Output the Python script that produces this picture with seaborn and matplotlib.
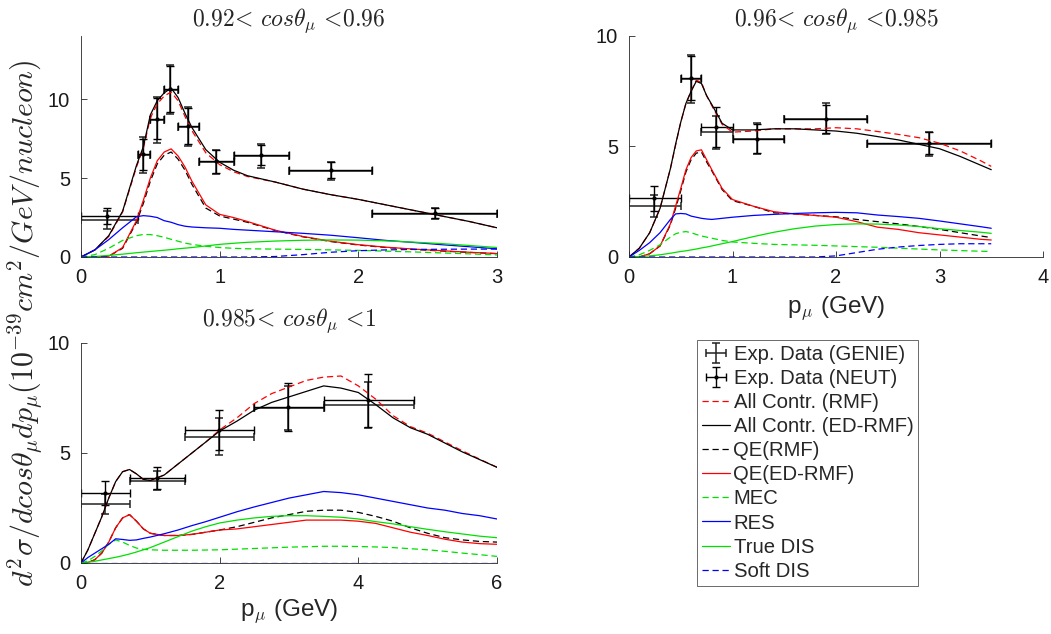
import numpy as np
import pandas as pd
import matplotlib
matplotlib.use("Agg")
import matplotlib.pyplot as plt
import seaborn as sns
from matplotlib.lines import Line2D

# ---------------- Panel 1: 0.92 < cos < 0.96 ----------------
p1_x = [0, 0.1, 0.2, 0.3, 0.4, 0.45, 0.5, 0.55, 0.6, 0.65, 0.7, 0.75, 0.8, 0.9, 1.0,
        1.1, 1.2, 1.4, 1.6, 1.8, 2.0, 2.2, 2.4, 2.6, 2.8, 3.0]
p1_tot_rmf = [0, 0.45, 1.3, 2.85, 5.7, 6.9, 8.8, 9.7, 10.2, 10.45, 9.9, 8.9, 8.0, 6.6, 5.85,
              5.4, 5.1, 4.75, 4.3, 3.95, 3.65, 3.3, 2.95, 2.6, 2.25, 1.85]
p1_tot_ed = [0, 0.45, 1.35, 2.9, 5.8, 7.0, 9.0, 9.9, 10.4, 10.7, 10.1, 9.1, 8.2, 6.8, 6.0,
             5.5, 5.15, 4.75, 4.3, 3.95, 3.65, 3.3, 2.95, 2.6, 2.25, 1.85]
p1_qe_rmf = [0, 0, 0.05, 0.55, 2.2, 3.4, 4.8, 5.9, 6.45, 6.65, 6.2, 5.5, 4.6, 3.1, 2.6,
             2.4, 2.2, 1.68, 1.28, 0.98, 0.76, 0.6, 0.48, 0.38, 0.29, 0.21]
p1_qe_ed = [0, 0, 0.05, 0.6, 2.3, 3.6, 5.0, 6.1, 6.65, 6.85, 6.4, 5.7, 4.8, 3.3, 2.7,
            2.5, 2.25, 1.7, 1.3, 1.0, 0.78, 0.62, 0.5, 0.4, 0.3, 0.22]
p1_mec = [0, 0.15, 0.55, 1.05, 1.35, 1.43, 1.42, 1.35, 1.25, 1.12, 1.0, 0.88, 0.8, 0.68, 0.6,
          0.55, 0.52, 0.5, 0.48, 0.45, 0.42, 0.37, 0.32, 0.26, 0.2, 0.13]
p1_res = [0, 0.45, 1.1, 1.85, 2.55, 2.62, 2.58, 2.5, 2.3, 2.2, 2.05, 1.95, 1.9, 1.85, 1.82,
          1.75, 1.7, 1.6, 1.5, 1.38, 1.22, 1.05, 0.92, 0.78, 0.65, 0.52]
p1_dis = [0, 0.03, 0.1, 0.18, 0.27, 0.31, 0.35, 0.39, 0.43, 0.47, 0.52, 0.56, 0.6, 0.7, 0.8,
          0.87, 0.93, 1.01, 1.06, 1.08, 1.07, 1.02, 0.94, 0.85, 0.73, 0.6]
p1_soft = [0, 0, 0, 0, 0, 0, 0, 0, 0, 0, 0, 0, 0, 0, 0,
           0, 0, 0.03, 0.15, 0.3, 0.4, 0.45, 0.48, 0.49, 0.5, 0.5]

p1_dx = [0.19, 0.445, 0.545, 0.64, 0.775, 0.975, 1.30, 1.80, 2.55]
p1_dlo = [0, 0.41, 0.50, 0.60, 0.70, 0.85, 1.10, 1.50, 2.10]
p1_dhi = [0.41, 0.50, 0.60, 0.70, 0.85, 1.10, 1.50, 2.10, 3.00]
p1_genie = [2.35, 6.45, 8.7, 10.6, 8.25, 6.0, 6.4, 5.45, 2.75]
p1_genie_err = [0.55, 1.15, 1.45, 1.55, 1.25, 0.75, 0.75, 0.55, 0.35]
p1_neut = [2.6, 6.5, 8.75, 10.65, 8.3, 6.05, 6.45, 5.5, 2.8]
p1_neut_err = [0.5, 1.0, 1.3, 1.45, 1.15, 0.7, 0.65, 0.5, 0.3]

# ---------------- Panel 2: 0.96 < cos < 0.985 ----------------
p2_x = [0, 0.1, 0.2, 0.3, 0.4, 0.45, 0.5, 0.55, 0.6, 0.65, 0.7, 0.75, 0.8, 0.9, 1.0, 1.2,
        1.4, 1.6, 1.8, 2.0, 2.2, 2.4, 2.6, 2.8, 3.0, 3.2, 3.4, 3.5]
p2_tot_rmf = [0, 0.4, 1.1, 2.2, 4.0, 5.05, 6.1, 6.95, 7.5, 8.0, 7.9, 7.3, 6.85, 6.0, 5.65, 5.7,
              5.8, 5.8, 5.8, 5.85, 5.8, 5.68, 5.55, 5.4, 5.15, 4.8, 4.35, 4.1]
p2_tot_ed = [0, 0.4, 1.1, 2.2, 4.0, 5.1, 6.1, 6.95, 7.5, 7.95, 7.85, 7.3, 6.9, 6.05, 5.75, 5.75,
             5.8, 5.8, 5.75, 5.7, 5.6, 5.45, 5.3, 5.1, 4.9, 4.55, 4.15, 3.95]
p2_qe_rmf = [0, 0, 0.15, 0.5, 1.45, 2.2, 3.0, 3.85, 4.4, 4.7, 4.75, 4.3, 3.9, 3.05, 2.55, 2.3,
             2.0, 1.95, 1.88, 1.82, 1.7, 1.6, 1.5, 1.38, 1.25, 1.1, 0.95, 0.88]
p2_qe_ed = [0, 0, 0.15, 0.5, 1.5, 2.3, 3.1, 3.95, 4.5, 4.8, 4.85, 4.4, 3.95, 3.1, 2.6, 2.3,
            2.05, 1.95, 1.88, 1.8, 1.6, 1.35, 1.25, 1.1, 1.0, 0.9, 0.8, 0.77]
p2_mec = [0, 0.1, 0.3, 0.55, 0.9, 1.05, 1.12, 1.15, 1.1, 1.02, 0.95, 0.9, 0.85, 0.75, 0.68, 0.62,
          0.57, 0.55, 0.53, 0.5, 0.47, 0.44, 0.4, 0.36, 0.32, 0.29, 0.26, 0.25]
p2_res = [0, 0.3, 0.65, 1.1, 1.7, 1.95, 1.97, 1.95, 1.85, 1.8, 1.75, 1.72, 1.7, 1.75, 1.8, 1.88,
          1.93, 1.97, 2.0, 2.02, 2.0, 1.9, 1.83, 1.75, 1.63, 1.5, 1.37, 1.3]
p2_dis = [0, 0.02, 0.05, 0.1, 0.17, 0.21, 0.25, 0.28, 0.32, 0.36, 0.41, 0.45, 0.5, 0.6, 0.7, 0.92,
          1.12, 1.28, 1.4, 1.47, 1.5, 1.49, 1.45, 1.38, 1.28, 1.2, 1.12, 1.07]
p2_soft = [0, 0, 0, 0, 0, 0, 0, 0, 0, 0, 0, 0, 0, 0, 0, 0,
           0, 0, 0, 0.05, 0.2, 0.35, 0.45, 0.52, 0.57, 0.6, 0.6, 0.6]

p2_dx = [0.245, 0.60, 0.84, 1.24, 1.90, 2.90]
p2_dlo = [0, 0.50, 0.70, 1.00, 1.50, 2.30]
p2_dhi = [0.50, 0.70, 1.00, 1.50, 2.30, 3.50]
p2_genie = [2.3, 8.05, 5.65, 5.35, 6.25, 5.1]
p2_genie_err = [0.5, 1.1, 0.75, 0.7, 0.7, 0.55]
p2_neut = [2.65, 8.1, 5.87, 5.35, 6.25, 5.15]
p2_neut_err = [0.55, 1.0, 0.9, 0.65, 0.65, 0.5]

# ---------------- Panel 3: 0.985 < cos < 1 ----------------
p3_x = [0, 0.1, 0.2, 0.3, 0.4, 0.5, 0.6, 0.7, 0.8, 0.9, 1.0, 1.2, 1.4, 1.6, 1.8, 2.0,
        2.25, 2.5, 2.75, 3.0, 3.25, 3.5, 3.75, 4.0, 4.25, 4.5, 4.75, 5.0, 5.25, 5.5, 5.75, 6.0]
p3_tot_rmf = [0, 0.6, 1.35, 2.1, 2.95, 3.7, 4.15, 4.25, 4.05, 3.8, 3.75, 4.0, 4.5, 5.0, 5.5, 6.05,
              6.6, 7.25, 7.7, 8.0, 8.3, 8.45, 8.5, 8.05, 7.45, 6.7, 6.2, 5.9, 5.5, 5.1, 4.72, 4.35]
p3_tot_ed = [0, 0.6, 1.35, 2.1, 2.95, 3.7, 4.15, 4.25, 4.05, 3.8, 3.75, 4.0, 4.5, 5.0, 5.5, 6.0,
             6.45, 6.95, 7.3, 7.55, 7.8, 8.05, 7.95, 7.75, 7.2, 6.6, 6.15, 5.85, 5.45, 5.05, 4.7, 4.35]
p3_qe_rmf = [0, 0.02, 0.15, 0.45, 0.95, 1.6, 2.05, 2.2, 1.9, 1.55, 1.35, 1.25, 1.25, 1.3, 1.4, 1.5,
             1.65, 1.85, 2.05, 2.2, 2.35, 2.4, 2.4, 2.3, 2.12, 1.9, 1.6, 1.35, 1.15, 1.05, 0.98, 0.95]
p3_qe_ed = [0, 0.02, 0.15, 0.45, 0.95, 1.6, 2.05, 2.2, 1.9, 1.55, 1.35, 1.25, 1.25, 1.3, 1.4, 1.5,
            1.55, 1.65, 1.75, 1.85, 1.95, 1.95, 1.95, 1.9, 1.8, 1.6, 1.4, 1.25, 1.08, 0.95, 0.88, 0.85]
p3_mec = [0, 0.1, 0.3, 0.55, 0.85, 1.05, 0.95, 0.8, 0.68, 0.62, 0.6, 0.58, 0.58, 0.58, 0.59, 0.6,
          0.63, 0.66, 0.69, 0.72, 0.74, 0.76, 0.76, 0.75, 0.73, 0.7, 0.65, 0.6, 0.53, 0.45, 0.38, 0.3]
p3_res = [0, 0.25, 0.45, 0.65, 0.85, 1.1, 1.07, 1.03, 1.05, 1.12, 1.18, 1.33, 1.5, 1.7, 1.88, 2.08,
          2.33, 2.55, 2.75, 2.95, 3.1, 3.25, 3.2, 3.1, 2.95, 2.8, 2.65, 2.5, 2.4, 2.25, 2.15, 2.0]
p3_dis = [0, 0.04, 0.08, 0.14, 0.2, 0.26, 0.33, 0.41, 0.5, 0.6, 0.7, 0.95, 1.2, 1.45, 1.65, 1.82,
          1.95, 2.05, 2.12, 2.15, 2.15, 2.12, 2.08, 2.0, 1.88, 1.78, 1.65, 1.53, 1.42, 1.32, 1.22, 1.15]
p3_soft = [0] * 32

p3_dx = [0.34, 1.09, 1.99, 2.99, 4.14]
p3_dlo = [0, 0.70, 1.50, 2.50, 3.50]
p3_dhi = [0.70, 1.50, 2.50, 3.50, 4.80]
p3_genie = [2.7, 3.75, 5.75, 7.05, 7.2]
p3_genie_err = [0.45, 0.45, 0.85, 1.0, 1.05]
p3_neut = [3.2, 3.85, 6.05, 7.1, 7.4]
p3_neut_err = [0.55, 0.5, 0.9, 1.1, 1.2]

titles = [r"$0.92\!<\,cos\theta_\mu\,<\!0.96$",
          r"$0.96\!<\,cos\theta_\mu\,<\!0.985$",
          r"$0.985\!<\,cos\theta_\mu\,<\!1$"]

legend_labels = ["Exp. Data (GENIE)", "Exp. Data (NEUT)", "All Contr. (RMF)",
                 "All Contr. (ED-RMF)", "QE(RMF)", "QE(ED-RMF)", "MEC", "RES",
                 "True DIS", "Soft DIS"]

GREEN = "#00e000"
styles = [("tot_rmf", "red", (0, (5, 3))),
          ("tot_ed", "black", "-"),
          ("qe_rmf", "black", (0, (5, 3))),
          ("qe_ed", "red", "-"),
          ("mec", GREEN, (0, (5, 3))),
          ("res", "blue", "-"),
          ("dis", GREEN, "-"),
          ("soft", "blue", (0, (5, 3)))]

panels = [
    dict(x=p1_x, curves=dict(tot_rmf=p1_tot_rmf, tot_ed=p1_tot_ed, qe_rmf=p1_qe_rmf, qe_ed=p1_qe_ed,
                             mec=p1_mec, res=p1_res, dis=p1_dis, soft=p1_soft),
         dx=p1_dx, dlo=p1_dlo, dhi=p1_dhi, g=p1_genie, ge=p1_genie_err, n=p1_neut, ne=p1_neut_err,
         xlim=(0, 3), ylim=(0, 14), xticks=[0, 1, 2, 3], pad=7),
    dict(x=p2_x, curves=dict(tot_rmf=p2_tot_rmf, tot_ed=p2_tot_ed, qe_rmf=p2_qe_rmf, qe_ed=p2_qe_ed,
                             mec=p2_mec, res=p2_res, dis=p2_dis, soft=p2_soft),
         dx=p2_dx, dlo=p2_dlo, dhi=p2_dhi, g=p2_genie, ge=p2_genie_err, n=p2_neut, ne=p2_neut_err,
         xlim=(0, 4), ylim=(0, 10), xticks=[0, 1, 2, 3, 4], pad=7),
    dict(x=p3_x, curves=dict(tot_rmf=p3_tot_rmf, tot_ed=p3_tot_ed, qe_rmf=p3_qe_rmf, qe_ed=p3_qe_ed,
                             mec=p3_mec, res=p3_res, dis=p3_dis, soft=p3_soft),
         dx=p3_dx, dlo=p3_dlo, dhi=p3_dhi, g=p3_genie, ge=p3_genie_err, n=p3_neut, ne=p3_neut_err,
         xlim=(0, 6), ylim=(0, 10), xticks=[0, 2, 4, 6], pad=12),
]

sns.set_theme(style="white")
plt.rcParams["font.family"] = ["Liberation Sans", "DejaVu Sans"]
plt.rcParams["mathtext.fontset"] = "cm"

fig = plt.figure(figsize=(10.51, 6.34), dpi=100)
W, H = 1051, 634
rects = [(81, 36, 497, 257), (629, 36, 1043, 257), (81, 343, 497, 563)]
axes = []
for (l, t, r, b) in rects:
    axes.append(fig.add_axes([l / W, 1 - b / H, (r - l) / W, (b - t) / H]))

legend_handles = []
for i, (ax, pdat, title) in enumerate(zip(axes, panels, titles)):
    dx = np.array(pdat["dx"])
    xerr = [dx - np.array(pdat["dlo"]), np.array(pdat["dhi"]) - dx]
    hg = ax.errorbar(dx, pdat["g"], yerr=pdat["ge"], xerr=xerr, fmt="none", ecolor="#222222",
                     elinewidth=1.1, capsize=3, capthick=1.1)
    hn = ax.errorbar(dx, pdat["n"], yerr=pdat["ne"], xerr=xerr, fmt=".", color="black",
                     ms=4, ecolor="black", elinewidth=1.0, capsize=3, capthick=1.0)
    if i == 0:
        legend_handles += [hg, hn]
    for key, col, ls in styles:
        df = pd.DataFrame({"p": pdat["x"], "v": pdat["curves"][key]})
        sns.lineplot(data=df, x="p", y="v", ax=ax, color=col, linestyle=ls, linewidth=0.9,
                     estimator=None, sort=False)
        if i == 0:
            legend_handles.append(Line2D([], [], color=col, linestyle=ls, linewidth=0.9))
    ax.set_xlim(*pdat["xlim"])
    ax.set_ylim(*pdat["ylim"])
    ax.set_xticks(pdat["xticks"])
    ax.set_yticks([0, 5, 10])
    ax.set_xlabel("")
    ax.set_ylabel("")
    for s in ["top", "right"]:
        ax.spines[s].set_visible(False)
    for s in ["left", "bottom"]:
        ax.spines[s].set_color("#262626")
        ax.spines[s].set_linewidth(0.6)
    ax.tick_params(axis="both", direction="in", length=4, width=0.6, color="#262626",
                   labelsize=14.5, bottom=True, left=True, labelcolor="#1a1a1a")
    ax.tick_params(axis="x", pad=8)
    ax.tick_params(axis="y", pad=8)
    ax.set_title(title, fontsize=17, pad=pdat["pad"])
    ax.patch.set_alpha(0)

axes[1].set_xlabel(r"p$_\mu$ (GeV)", fontsize=17.5, labelpad=5)
axes[2].set_xlabel(r"p$_\mu$ (GeV)", fontsize=17.5, labelpad=3)

fig.text(0.024, 0.49, r"$d^2\sigma/dcos\theta_\mu dp_\mu(10^{-39}cm^2/GeV/nucleon)$",
         rotation=90, ha="center", va="center", fontsize=21.5)

leg = fig.legend(legend_handles, legend_labels, loc="upper left",
                 bbox_to_anchor=(697 / W, 1 - 340 / H), frameon=True, fancybox=False,
                 edgecolor="#444444", fontsize=14.6, handlelength=1.4, handletextpad=0.15,
                 labelspacing=0.25, borderpad=0.25, borderaxespad=0)
leg.get_frame().set_linewidth(0.7)

fig.savefig("out.png", dpi=100)
